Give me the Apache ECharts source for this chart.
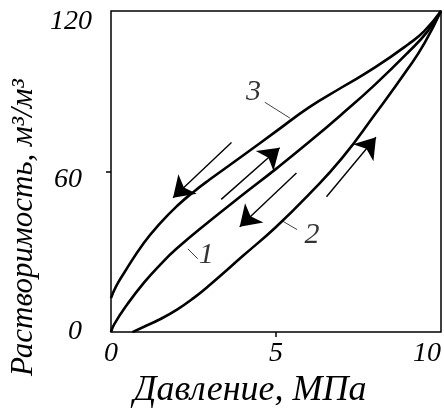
<!DOCTYPE html>
<html>
<head>
    <meta charset="utf-8">
    <title>Растворимость</title>
    <script src="https://cdn.jsdelivr.net/npm/echarts@6/dist/echarts.min.js"></script>
    <style>
        html, body { margin: 0; padding: 0; background: #fff; }
        #main { width: 444px; height: 414px; }
    </style>
</head>
<body>
<div id="main"></div>
<script type="text/javascript">
    // значения: [давление, МПа; растворимость, м3/м3]
    var curve1 = [[0, 0], [0.1, 3], [0.5, 10.5], [1, 18.5], [1.5, 25.3], [2, 31.3], [3, 41.6], [4, 51.4],
        [5, 61], [6, 71], [7, 81.5], [8, 92.5], [9, 104.5], [9.6, 112.5], [10, 120]];
    var curve2 = [[0.65, 0], [1, 2], [1.5, 4.9], [2, 8.4], [2.5, 12.7], [3, 17.7], [4, 28.5], [5, 39.3],
        [6, 51.5], [7, 65], [8, 81.4], [9, 98.5], [9.5, 108], [10, 120]];
    var curve3 = [[0, 12.7], [0.15, 17], [0.4, 22.2], [1, 33.4], [1.5, 40.8], [2, 47.1], [2.5, 52.4], [3, 57.1],
        [4, 66], [5, 75], [6, 84], [7, 91.5], [8, 98.9], [9, 107.5], [9.5, 112.6], [10, 120]];

    // стрелки: [начало, конец]
    var arrows = [
        [[3.65, 70.9], [1.88, 50.2]],
        [[3.34, 49.6], [5.11, 68.9]],
        [[5.62, 59.5], [3.9, 39.4]],
        [[6.53, 50.6], [8.03, 72.8]]
    ];
    // выноски к номерам кривых
    var leaders = [
        [[4.66, 85.9], [5.42, 80]],
        [[2.33, 31.1], [2.63, 27.4]],
        [[5.21, 41.4], [5.64, 38.3]]
    ];
    var curveNames = ['3', '1', '2'];
    var namePos = [[4.32, 89.6], [2.89, 28.7], [6.09, 36.4]];

    var xTicks = [0, 5, 10];
    var yTicks = [0, 60, 120];

    var font = 'Liberation Serif';

    var chartDom = document.getElementById('main');
    var myChart = echarts.init(chartDom);
    var option;

    var lineStyle = {color: '#000', width: 2.6};
    var tickFont = {fontFamily: font, fontStyle: 'italic', fontSize: 28, color: '#000'};

    option = {
        animation: false,
        grid: {
            left: 111, right: 3, top: 11, bottom: 78,
            show: true, borderColor: '#000', borderWidth: 1.5
        },
        xAxis: {
            type: 'value', min: xTicks[0], max: xTicks[2], interval: 5,
            name: 'Давление, МПа',
            nameLocation: 'middle', nameGap: 40,
            nameTextStyle: {fontFamily: font, fontStyle: 'italic', fontSize: 36, color: '#000', padding: [0, 52, 0, 0]},
            axisLine: {show: false},
            splitLine: {show: false},
            axisTick: {show: true, customValues: [xTicks[1]], length: 5, lineStyle: {color: '#000', width: 1.5}},
            axisLabel: Object.assign({margin: 8, alignMaxLabel: 'right'}, tickFont)
        },
        yAxis: {
            type: 'value', min: yTicks[0], max: yTicks[2], interval: 60,
            name: 'Растворимость, м³/м³',
            nameLocation: 'middle', nameGap: 68,
            nameTextStyle: {fontFamily: font, fontStyle: 'italic', fontSize: 31, color: '#000', padding: [0, 112, 0, 0]},
            axisLine: {show: false},
            splitLine: {show: false},
            axisTick: {show: true, customValues: [yTicks[1]], length: 5, lineStyle: {color: '#000', width: 1.5}},
            axisLabel: Object.assign({
                margin: 19,
                formatter: function (v) {
                    if (v === 120) return '{t|120}';
                    if (v === 60) return '{m|60}';
                    return '{b|' + v + '}';
                },
                rich: {
                    t: Object.assign({padding: [22, 0, 0, 0]}, tickFont),
                    m: Object.assign({padding: [16, 10, 0, 0]}, tickFont),
                    b: Object.assign({padding: [0, 10, 0, 0]}, tickFont)
                }
            }, tickFont)
        },
        series: [
            {type: 'line', data: curve1, smooth: 0.5, showSymbol: false, lineStyle: lineStyle},
            {type: 'line', data: curve2, smooth: 0.5, showSymbol: false, lineStyle: lineStyle},
            {type: 'line', data: curve3, smooth: 0.5, showSymbol: false, lineStyle: lineStyle},
            {
                type: 'lines', coordinateSystem: 'cartesian2d',
                symbol: ['none', 'arrow'], symbolSize: 20,
                lineStyle: {color: '#000', width: 1.4, opacity: 1},
                data: arrows.map(function (a) { return {coords: a}; })
            },
            {
                type: 'lines', coordinateSystem: 'cartesian2d',
                lineStyle: {color: '#444', width: 1, opacity: 1},
                data: leaders.map(function (a) { return {coords: a}; })
            },
            {
                type: 'scatter', symbolSize: 0,
                data: namePos,
                label: {
                    show: true, position: 'inside',
                    fontFamily: font, fontStyle: 'italic', fontSize: 30, color: '#000',
                    formatter: function (p) { return curveNames[p.dataIndex]; }
                }
            }
        ]
    };

    option && myChart.setOption(option);
</script>
</body>
</html>
